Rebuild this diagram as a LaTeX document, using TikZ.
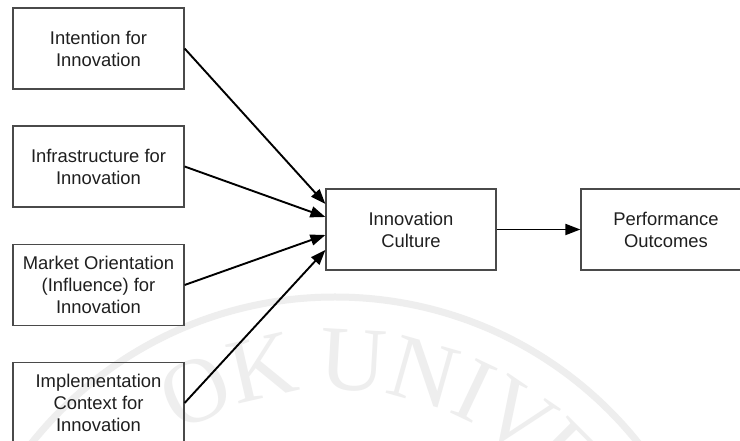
\documentclass[tikz,border=0pt]{standalone}
\usepackage{fontspec}
\setmainfont{Liberation Sans}
\newfontfamily\sealfont{Liberation Serif}
\usetikzlibrary{arrows.meta,calc}
\definecolor{boxgray}{HTML}{4A4A4A}
\definecolor{sealgray}{HTML}{EEEEEE}
\begin{document}
\begin{tikzpicture}[x=1pt,y=1pt,
  box/.style={draw=boxgray, line width=1.2pt, minimum width=171pt, minimum height=81pt,
    align=center, inner sep=2pt, font=\fontsize{18.4}{22}\selectfont, text=black!88},
  link/.style={line width=1.9pt, -{Triangle[length=15pt,width=11pt]}},
  sealletter/.style={font=\sealfont\fontsize{92}{92}\selectfont, text=sealgray,
    anchor=base, inner sep=0pt}]
\useasboundingbox (0,0) rectangle (740,441);
\clip (0,0) rectangle (740,441);
\fill[white] (0,0) rectangle (740,441);

% faint university seal in the background
\coordinate (seal) at (335,-244);
\draw[sealgray, line width=7pt] (seal) circle[radius=388];
\foreach \ch/\ang in {O/115.3, K/102.9, U/86.8, N/74.2, I/64.6, V/55.8, E/45}
  \node[sealletter, rotate=\ang-90] (l\ch) at ($(seal)+(\ang:295)$) {\ch};

% antecedent boxes
\node[box] (intent) at (98.5,392.5) {Intention for\\Innovation};
\node[box] (infra)  at (98.5,274.5) {Infrastructure for\\Innovation};
\node[box] (market) at (98.5,156)   {Market Orientation\\(Influence) for\\Innovation};
\node[box] (impl)   at (98.5,38)    {Implementation\\Context for\\Innovation};

% central construct and outcome
\node[box, minimum width=170pt] (culture) at (411,211.5) {Innovation\\Culture};
\node[box, minimum width=170pt] (perf)    at (666,211.5) {Performance\\Outcomes};

% connectors
\draw[link] (intent.east) -- ($(culture.west)+(0,25.5)$);
\draw[link] (infra.east)  -- ($(culture.west)+(0,12.5)$);
\draw[link] (market.east) -- ($(culture.west)+(0,-5.5)$);
\draw[link] (impl.east)   -- ($(culture.west)+(0,-20.5)$);
\draw[link] (culture.east) -- (perf.west);
\end{tikzpicture}
\end{document}
